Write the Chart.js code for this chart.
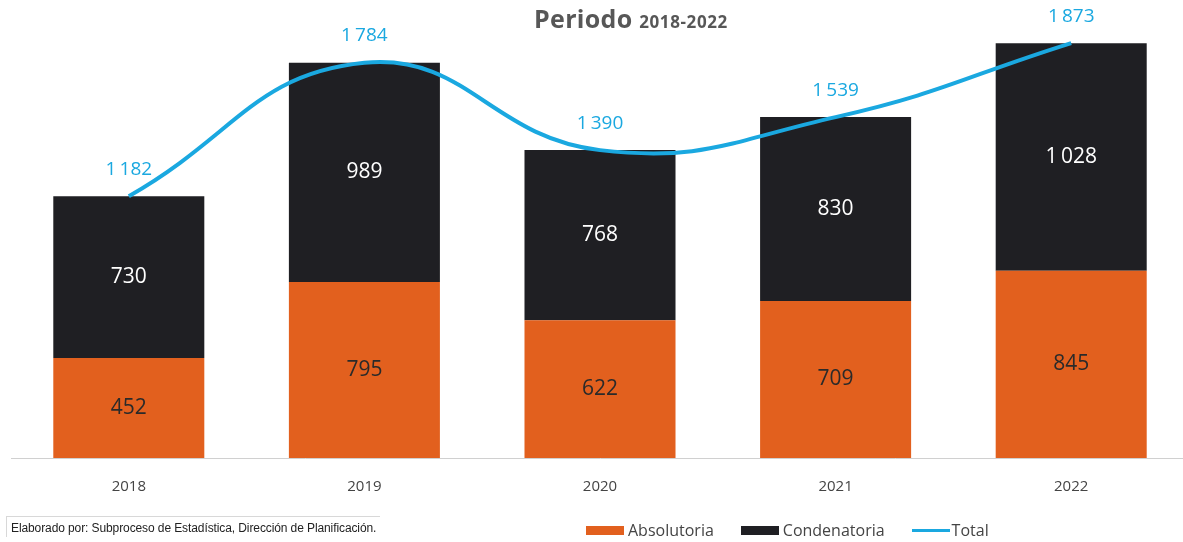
<!DOCTYPE html>
<html>
<head>
    <title>Periodo 2018-2022</title>
    <script src="https://cdn.jsdelivr.net/npm/chart.js"></script>
    <style>
        body {
            margin: 0;
            background: #ffffff;
            font-family: "Open Sans", Arial, sans-serif;
        }
        .wrap {
            position: relative;
            width: 1183px;
            height: 542px;
            overflow: hidden;
        }
        .title {
            position: absolute;
            top: 1px;
            left: 0;
            width: 1262px;
            text-align: center;
            color: #575757;
            font-weight: 700;
            font-size: 25px;
            letter-spacing: 0.3px;
        }
        .title small {
            font-size: 17px;
            font-weight: 700;
            letter-spacing: 0.6px;
        }
        .note {
            position: absolute;
            left: 6px;
            top: 516px;
            padding: 4px 4px 2px 4px;
            border-top: 1px solid #d8d8d8;
            border-left: 1px solid #d8d8d8;
            font-family: "Liberation Sans", Arial, sans-serif;
            font-size: 12px;
            color: #222;
            letter-spacing: -0.1px;
        }
        .legend {
            position: absolute;
            left: 586px;
            top: 519px;
            display: flex;
            align-items: center;
            font-size: 16px;
            color: #444;
        }
        .legend span.item {
            display: flex;
            align-items: center;
            margin-right: 27px;
        }
        .legend i {
            display: inline-block;
            width: 38px;
            height: 9px;
            margin-right: 4px;
        }
        .legend i.line {
            height: 3px;
            margin-right: 2px;
        }
    </style>
</head>
<body>
<div class="wrap">
    <canvas id="chart" width="1190" height="542"></canvas>
    <div class="title">Periodo <small>2018-2022</small></div>
    <div class="note">Elaborado por: Subproceso de Estadística, Dirección de Planificación.</div>
    <div class="legend" id="legend"></div>
</div>
<script>
    const years = ['2018', '2019', '2020', '2021', '2022'];
    const absolutoria = [452, 795, 622, 709, 845];
    const condenatoria = [730, 989, 768, 830, 1028];
    const total = [1182, 1784, 1390, 1539, 1873];

    const ORANGE = '#e2601e';
    const DARK = '#1f1f23';
    const BLUE = '#1aa8e0';

    // numbers like "1 182" with a narrow space
    function fmt(v) {
        return String(v).replace(/\B(?=(\d{3})+(?!\d))/g, '\u2009');
    }

    const labelPlugin = {
        id: 'labels',
        afterDatasetsDraw(chart) {
            const c = chart.ctx;
            c.save();
            c.textAlign = 'center';
            c.textBaseline = 'middle';
            chart.data.datasets.forEach((ds, i) => {
                const meta = chart.getDatasetMeta(i);
                meta.data.forEach((el, j) => {
                    const v = ds.data[j];
                    if (ds.type === 'line') {
                        c.font = '19px "Open Sans"';
                        c.fillStyle = BLUE;
                        c.fillText(fmt(v), el.x, el.y - 27);
                    } else {
                        c.font = '21px "Open Sans"';
                        c.fillStyle = ds.labelColor;
                        c.fillText(fmt(v), el.x, (el.y + el.base) / 2);
                    }
                });
            });
            c.restore();
        }
    };

    const chart = new Chart(document.getElementById('chart'), {
        data: {
            labels: years,
            datasets: [{
                type: 'line',
                label: 'Total',
                data: total,
                borderColor: BLUE,
                borderWidth: 4,
                pointRadius: 0,
                tension: 0.45,
                yAxisID: 'y2',
                order: 0
            }, {
                type: 'bar',
                label: 'Absolutoria',
                data: absolutoria,
                backgroundColor: ORANGE,
                labelColor: '#2a2a2a',
                order: 1
            }, {
                type: 'bar',
                label: 'Condenatoria',
                data: condenatoria,
                backgroundColor: DARK,
                labelColor: '#ffffff',
                order: 1
            }]
        },
        options: {
            responsive: false,
            animation: false,
            layout: { padding: { top: 15, left: 11, right: 1, bottom: 34 } },
            datasets: { bar: { categoryPercentage: 1, barPercentage: 0.641 } },
            plugins: {
                legend: { display: false },
                tooltip: { enabled: false }
            },
            scales: {
                x: {
                    stacked: true,
                    grid: { display: false },
                    border: { color: '#d0d0d0', width: 1 },
                    ticks: {
                        color: '#444',
                        font: { family: 'Open Sans', size: 15 },
                        padding: 12
                    }
                },
                y: { stacked: true, display: false, min: 0, max: 2000 },
                y2: { display: false, min: 0, max: 2000 }
            }
        },
        plugins: [labelPlugin]
    });

    // HTML legend from the dataset order in the picture
    const legendOrder = [1, 2, 0];
    document.getElementById('legend').innerHTML = legendOrder.map(i => {
        const ds = chart.data.datasets[i];
        const isLine = ds.type === 'line';
        const col = isLine ? ds.borderColor : ds.backgroundColor;
        return '<span class="item"><i class="' + (isLine ? 'line' : '') + '" style="background:' + col + '"></i>' + ds.label + '</span>';
    }).join('');
</script>
</body>
</html>
